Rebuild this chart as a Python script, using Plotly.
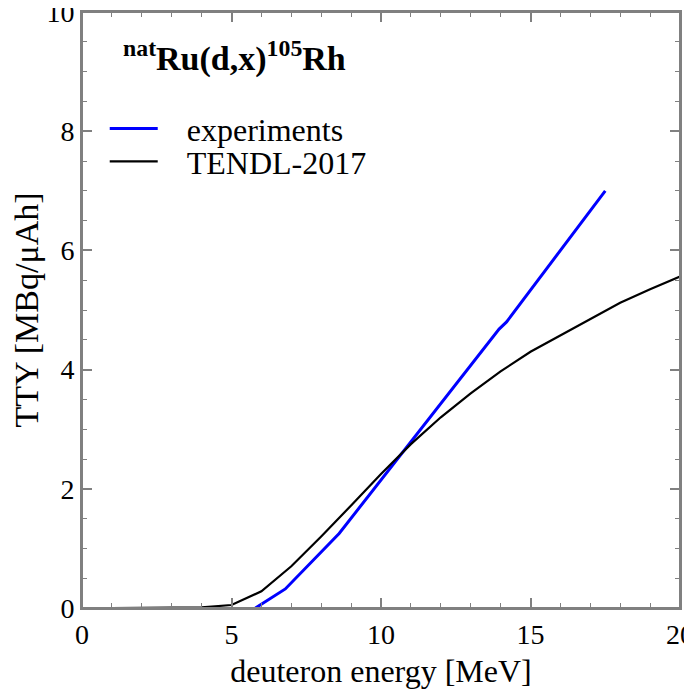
import plotly.graph_objects as go

# experiments (blue)
exp_energy = [5.8, 6.8, 8.6, 13.95, 14.2, 17.5]
exp_tty = [0.0, 0.32, 1.25, 4.68, 4.8, 7.0]

# TENDL-2017 (black)
tendl_energy = [1, 2, 3, 4, 5, 6, 7, 8, 9, 10, 11, 12, 13, 14, 15, 16, 17, 18, 19, 20]
tendl_tty = [0.0, 0.0, 0.0, 0.01, 0.05, 0.28, 0.7, 1.2, 1.72, 2.25, 2.75, 3.2, 3.6, 3.97, 4.3, 4.57, 4.85, 5.12, 5.35, 5.56]

x_ticks = [0, 5, 10, 15, 20]
y_ticks = [0, 2, 4, 6, 8, 10]

FONT = "Liberation Serif"
FRAME = "#808080"
PAD = "\u00a0\u00a0\u00a0"

fig = go.Figure()
fig.add_trace(go.Scatter(x=exp_energy, y=exp_tty, mode="lines", name=PAD + "experiments",
                         line=dict(color="#0000ff", width=3), legend="legend"))
fig.add_trace(go.Scatter(x=tendl_energy, y=tendl_tty, mode="lines", name=PAD + "TENDL-2017",
                         line=dict(color="black", width=2.2), legend="legend2"))

axis_common = dict(
    showgrid=False, zeroline=False, showline=True, linecolor=FRAME, linewidth=2,
    mirror="allticks", ticks="inside", tickcolor=FRAME, ticklen=10, tickwidth=1.5,
    tickfont=dict(family=FONT, size=28, color="black"), automargin=False,
    ticklabeloverflow="allow",
)
x_minor = dict(dtick=1, ticks="inside", ticklen=5, tickcolor=FRAME, tickwidth=1.2)
y_minor = dict(dtick=0.5, ticks="inside", ticklen=5, tickcolor=FRAME, tickwidth=1.2)

fig.update_layout(
    xaxis=dict(range=[0, 20], tickvals=x_ticks, minor=x_minor,
               title=dict(text="deuteron energy [MeV]", font=dict(family=FONT, size=32, color="black"),
                          standoff=27),
               **axis_common),
    yaxis=dict(range=[0, 10], tickvals=y_ticks, minor=y_minor,
               title=dict(text="TTY [MBq/μAh]", font=dict(family=FONT, size=34, color="black"),
                          standoff=12),
               **axis_common),
)

# plot frame (box around the data area)
fig.add_shape(type="rect", xref="paper", yref="paper", x0=0, x1=1, y0=0, y1=1,
              line=dict(color=FRAME, width=2), layer="above")

fig.add_annotation(xref="paper", yref="paper", x=0.066, y=0.925, xanchor="left", yanchor="middle",
                   showarrow=False,
                   text="<b><sup>nat</sup>Ru(d,x)<sup>105</sup>Rh</b>",
                   font=dict(family=FONT, size=34, color="black"))

legend_common = dict(xanchor="left", yanchor="middle", bgcolor="rgba(0,0,0,0)", borderwidth=0,
                     itemwidth=48, font=dict(family=FONT, size=32, color="black"))

fig.update_layout(
    width=684, height=681,
    margin=dict(l=74, r=11.5, t=4, b=81),
    plot_bgcolor="white", paper_bgcolor="white",
    showlegend=True,
    legend=dict(x=0.038, y=0.804, **legend_common),
    legend2=dict(x=0.038, y=0.749, **legend_common),
)

fig.write_html("out.html")
